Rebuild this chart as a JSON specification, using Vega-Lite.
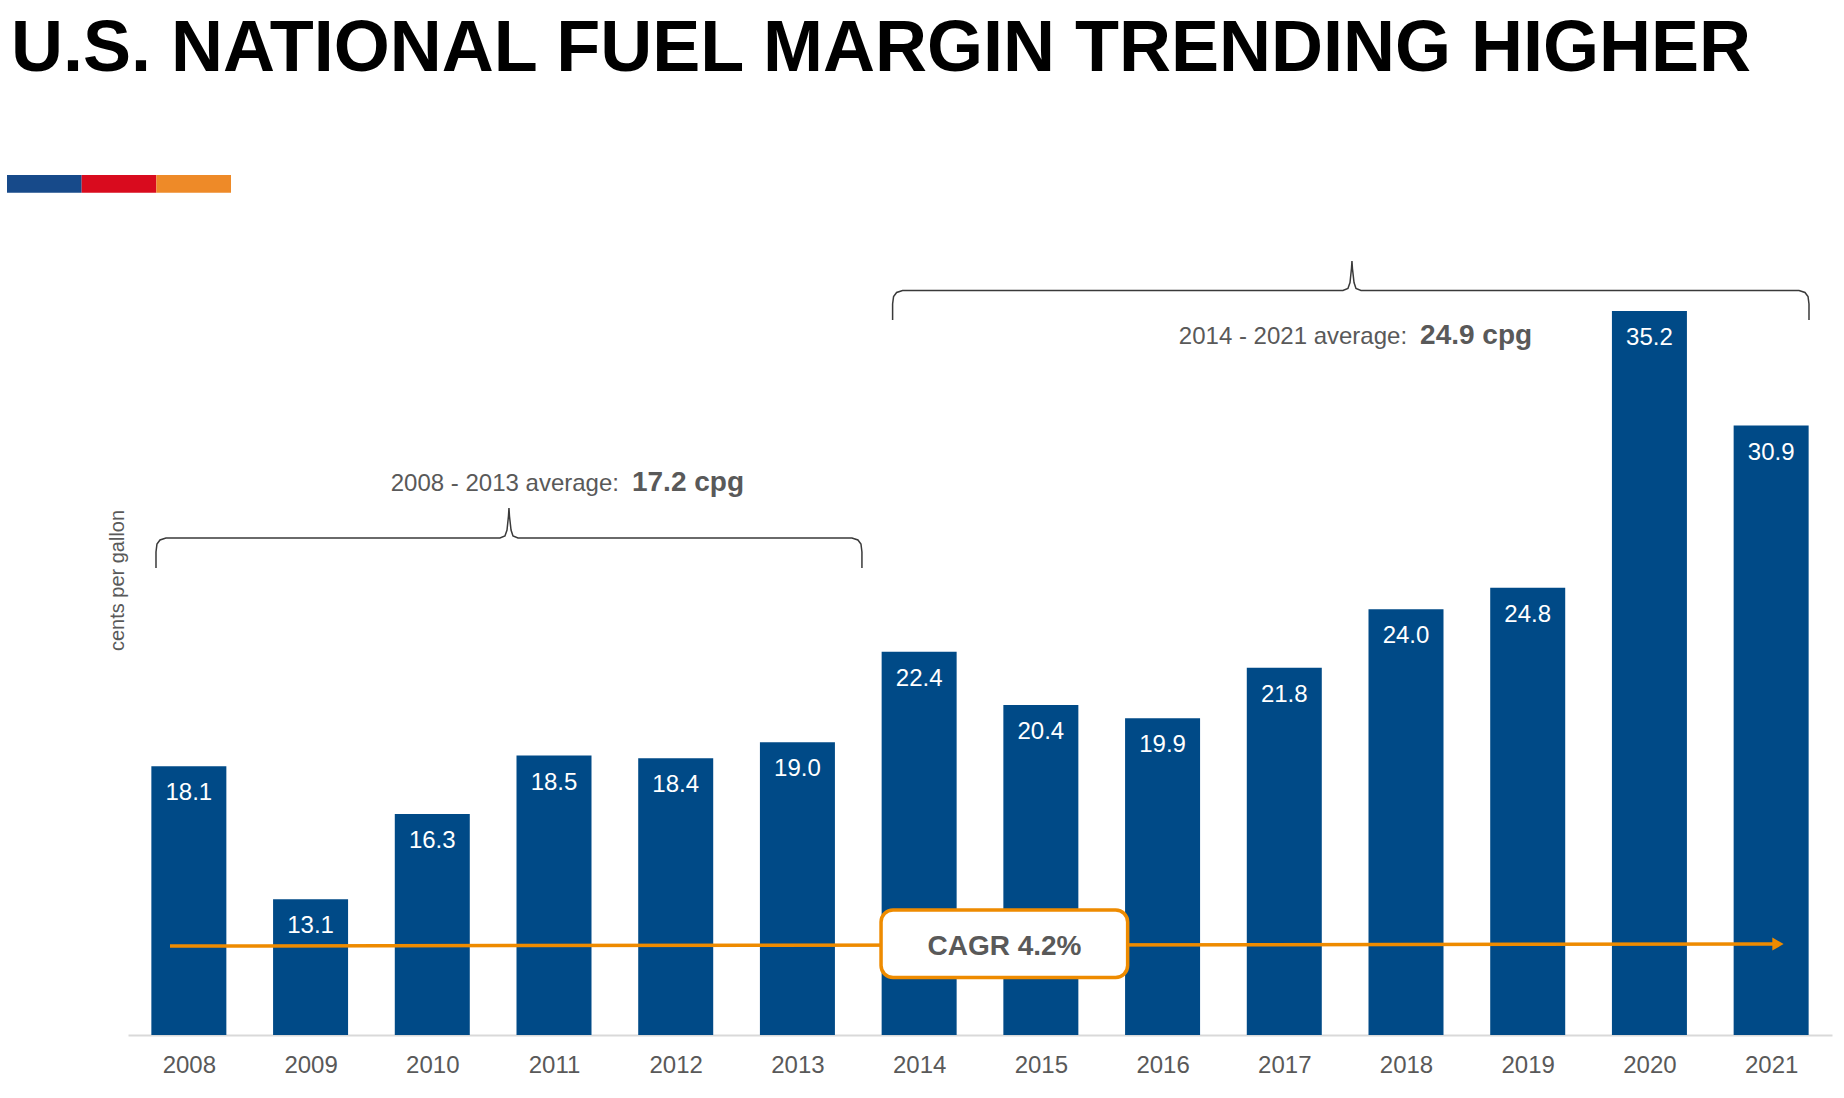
{
  "$schema": "https://vega.github.io/schema/vega-lite/v6.json",
  "width": 1704,
  "height": 865,
  "autosize": {"type": "none"},
  "padding": {"left": 128, "top": 170, "right": 12, "bottom": 63},
  "background": "white",
  "title": {
    "text": "U.S. NATIONAL FUEL MARGIN TRENDING HIGHER",
    "anchor": "start",
    "frame": "group",
    "dx": -117,
    "offset": 27,
    "baseline": "alphabetic",
    "fontSize": 72,
    "font": "Liberation Sans",
    "fontWeight": "bold",
    "color": "#000000"
  },
  "config": {"view": {"stroke": null}, "font": "Liberation Sans"},
  "datasets": {
    "bars": [
      {"year": 2008, "value": 18.1},
      {"year": 2009, "value": 13.1},
      {"year": 2010, "value": 16.3},
      {"year": 2011, "value": 18.5},
      {"year": 2012, "value": 18.4},
      {"year": 2013, "value": 19.0},
      {"year": 2014, "value": 22.4},
      {"year": 2015, "value": 20.4},
      {"year": 2016, "value": 19.9},
      {"year": 2017, "value": 21.8},
      {"year": 2018, "value": 24.0},
      {"year": 2019, "value": 24.8},
      {"year": 2020, "value": 35.2},
      {"year": 2021, "value": 30.9}
    ],
    "cagr": [
      {"x": 2007.845, "y": 11.344},
      {"x": 2021.03, "y": 11.417}
    ],
    "arrow": [{"x": 2021.056, "y": 11.417}],
    "box": [
      {"x": 2013.687, "x2": 2015.713, "y": 12.697, "y2": 10.16, "label": "CAGR 4.2%", "tx": 2014.701, "ty": 11.006}
    ],
    "notes": [
      {"label": "2008 - 2013 average:", "value": "17.2 cpg", "x": 2011.583, "y": 28.44},
      {"label": "2014 - 2021 average:", "value": "24.9 cpg", "x": 2018.058, "y": 33.98}
    ],
    "brackets": [
      {"g": "a", "i": 1, "x": 2007.73, "y": 25.546},
      {"g": "a", "i": 2, "x": 2007.73, "y": 26.148},
      {"g": "a", "i": 3, "x": 2007.738, "y": 26.448},
      {"g": "a", "i": 4, "x": 2007.763, "y": 26.599},
      {"g": "a", "i": 5, "x": 2007.812, "y": 26.674},
      {"g": "a", "i": 6, "x": 2010.556, "y": 26.674},
      {"g": "a", "i": 7, "x": 2010.597, "y": 26.749},
      {"g": "a", "i": 8, "x": 2010.614, "y": 26.974},
      {"g": "a", "i": 9, "x": 2010.626, "y": 27.5},
      {"g": "a", "i": 10, "x": 2010.63, "y": 27.801},
      {"g": "a", "i": 11, "x": 2010.634, "y": 27.5},
      {"g": "a", "i": 12, "x": 2010.647, "y": 26.974},
      {"g": "a", "i": 13, "x": 2010.663, "y": 26.749},
      {"g": "a", "i": 14, "x": 2010.704, "y": 26.674},
      {"g": "a", "i": 15, "x": 2013.448, "y": 26.674},
      {"g": "a", "i": 16, "x": 2013.497, "y": 26.599},
      {"g": "a", "i": 17, "x": 2013.522, "y": 26.448},
      {"g": "a", "i": 18, "x": 2013.53, "y": 26.148},
      {"g": "a", "i": 19, "x": 2013.53, "y": 25.546},
      {"g": "b", "i": 1, "x": 2013.782, "y": 34.864},
      {"g": "b", "i": 2, "x": 2013.782, "y": 35.465},
      {"g": "b", "i": 3, "x": 2013.79, "y": 35.747},
      {"g": "b", "i": 4, "x": 2013.815, "y": 35.897},
      {"g": "b", "i": 5, "x": 2013.864, "y": 35.972},
      {"g": "b", "i": 6, "x": 2017.482, "y": 35.972},
      {"g": "b", "i": 7, "x": 2017.523, "y": 36.047},
      {"g": "b", "i": 8, "x": 2017.54, "y": 36.273},
      {"g": "b", "i": 9, "x": 2017.552, "y": 36.799},
      {"g": "b", "i": 10, "x": 2017.556, "y": 37.081},
      {"g": "b", "i": 11, "x": 2017.56, "y": 36.799},
      {"g": "b", "i": 12, "x": 2017.573, "y": 36.273},
      {"g": "b", "i": 13, "x": 2017.589, "y": 36.047},
      {"g": "b", "i": 14, "x": 2017.63, "y": 35.972},
      {"g": "b", "i": 15, "x": 2021.229, "y": 35.972},
      {"g": "b", "i": 16, "x": 2021.278, "y": 35.897},
      {"g": "b", "i": 17, "x": 2021.303, "y": 35.747},
      {"g": "b", "i": 18, "x": 2021.311, "y": 35.465},
      {"g": "b", "i": 19, "x": 2021.311, "y": 34.864}
    ],
    "stripe": [
      {"seg": "blue", "i0": 0, "i1": 1},
      {"seg": "red", "i0": 1, "i1": 2},
      {"seg": "orange", "i0": 2, "i1": 3}
    ]
  },
  "layer": [
    {
      "layer": [
        {
          "data": {"name": "bars"},
          "mark": {"type": "bar", "width": 75, "color": "#004a87"},
          "encoding": {
            "x": {
              "field": "year",
              "type": "quantitative",
              "scale": {"domain": [2007.5, 2021.5], "nice": false, "zero": false, "padding": 0},
              "axis": {
                "values": [2008, 2009, 2010, 2011, 2012, 2013, 2014, 2015, 2016, 2017, 2018, 2019, 2020, 2021],
                "format": "d",
                "title": null,
                "ticks": false,
                "grid": false,
                "domainColor": "#d9d9d9",
                "domainWidth": 2,
                "labelFontSize": 24,
                "labelColor": "#595959",
                "labelFont": "Liberation Sans",
                "labelPadding": 18,
                "labelFlush": false
              }
            },
            "y": {
              "field": "value",
              "type": "quantitative",
              "scale": {"domain": [8, 40.5], "nice": false, "zero": false, "padding": 0},
              "axis": {
                "title": "cents per gallon",
                "labels": false,
                "ticks": false,
                "domain": false,
                "grid": false,
                "titleFontSize": 20,
                "titleFontWeight": "normal",
                "titleColor": "#595959",
                "titleFont": "Liberation Sans",
                "titleX": -5,
                "titleY": 410,
                "titleBaseline": "alphabetic",
                "titleAngle": 270
              }
            },
            "y2": {"datum": 8}
          }
        },
        {
          "data": {"name": "bars"},
          "mark": {"type": "text", "color": "#ffffff", "fontSize": 24, "font": "Liberation Sans", "baseline": "alphabetic", "align": "center", "dy": 34},
          "encoding": {
            "x": {"field": "year", "type": "quantitative"},
            "y": {"field": "value", "type": "quantitative"},
            "text": {"field": "value", "type": "quantitative", "format": ".1f"}
          }
        },
        {
          "data": {"name": "cagr"},
          "mark": {"type": "line", "color": "#ee8b00", "strokeWidth": 3.5},
          "encoding": {
            "x": {"field": "x", "type": "quantitative"},
            "y": {"field": "y", "type": "quantitative"}
          }
        },
        {
          "data": {"name": "arrow"},
          "mark": {"type": "point", "shape": "triangle-right", "filled": true, "color": "#ee8b00", "size": 170, "opacity": 1},
          "encoding": {
            "x": {"field": "x", "type": "quantitative"},
            "y": {"field": "y", "type": "quantitative"}
          }
        },
        {
          "data": {"name": "box"},
          "mark": {"type": "rect", "fill": "#ffffff", "stroke": "#ee8b00", "strokeWidth": 3.5, "cornerRadius": 12},
          "encoding": {
            "x": {"field": "x", "type": "quantitative"},
            "x2": {"field": "x2"},
            "y": {"field": "y", "type": "quantitative"},
            "y2": {"field": "y2"}
          }
        },
        {
          "data": {"name": "box"},
          "mark": {"type": "text", "color": "#595959", "fontSize": 28, "fontWeight": "bold", "font": "Liberation Sans", "align": "center", "baseline": "alphabetic"},
          "encoding": {
            "x": {"field": "tx", "type": "quantitative"},
            "y": {"field": "ty", "type": "quantitative"},
            "text": {"field": "label"}
          }
        },
        {
          "data": {"name": "brackets"},
          "mark": {"type": "line", "color": "#3a3a3a", "strokeWidth": 1.5},
          "encoding": {
            "x": {"field": "x", "type": "quantitative"},
            "y": {"field": "y", "type": "quantitative"},
            "detail": {"field": "g"},
            "order": {"field": "i", "type": "quantitative"}
          }
        },
        {
          "data": {"name": "notes"},
          "mark": {"type": "text", "color": "#595959", "fontSize": 24, "font": "Liberation Sans", "align": "right", "baseline": "alphabetic", "dx": -6},
          "encoding": {
            "x": {"field": "x", "type": "quantitative"},
            "y": {"field": "y", "type": "quantitative"},
            "text": {"field": "label"}
          }
        },
        {
          "data": {"name": "notes"},
          "mark": {"type": "text", "color": "#595959", "fontSize": 28, "fontWeight": "bold", "font": "Liberation Sans", "align": "left", "baseline": "alphabetic", "dx": 7},
          "encoding": {
            "x": {"field": "x", "type": "quantitative"},
            "y": {"field": "y", "type": "quantitative"},
            "text": {"field": "value"}
          }
        }
      ]
    },
    {
      "data": {"name": "stripe"},
      "mark": {"type": "rect"},
      "encoding": {
        "x": {"field": "i0", "type": "quantitative", "scale": {"domain": [1.6205, 24.4415], "nice": false, "zero": false, "padding": 0}, "axis": null},
        "x2": {"field": "i1"},
        "y": {"datum": 40.313},
        "y2": {"datum": 39.648},
        "color": {
          "field": "seg",
          "type": "nominal",
          "scale": {"domain": ["blue", "red", "orange"], "range": ["#174a8a", "#d90b1e", "#ee8a28"]},
          "legend": null
        }
      }
    }
  ],
  "resolve": {"scale": {"x": "independent"}}
}
